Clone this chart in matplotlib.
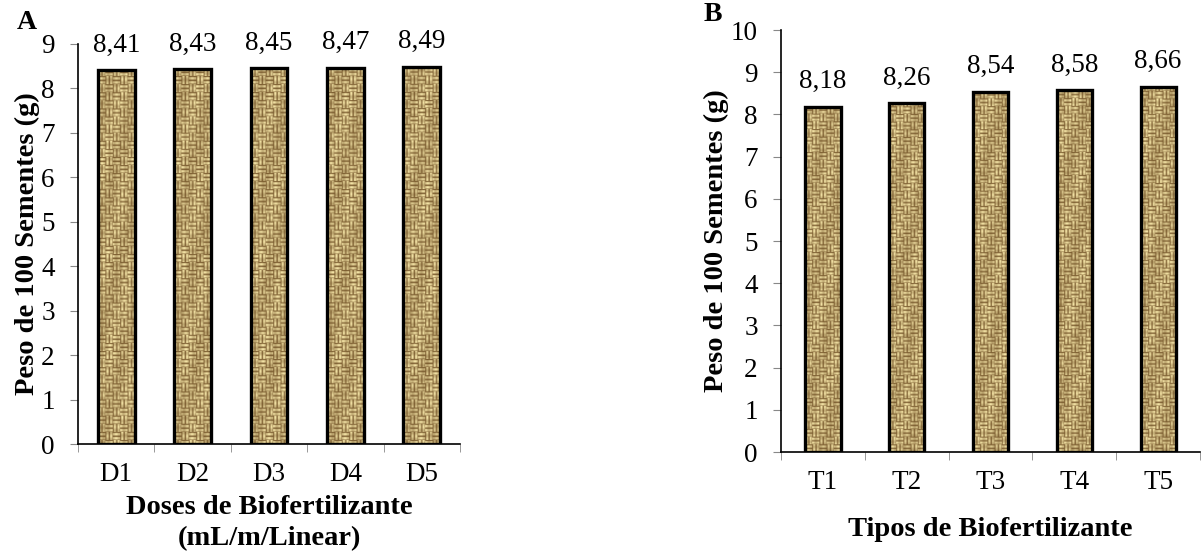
import matplotlib
matplotlib.use("Agg")
import matplotlib.pyplot as plt
import numpy as np

plt.rcParams['font.family'] = ['Liberation Serif', 'DejaVu Serif']

# data
doses = ["D1", "D2", "D3", "D4", "D5"]
peso_doses = [8.41, 8.43, 8.45, 8.47, 8.49]
tipos = ["T1", "T2", "T3", "T4", "T5"]
peso_tipos = [8.18, 8.26, 8.54, 8.58, 8.66]


def weave_texture(h=400, w=40, cell=8):
    """Burlap-like basket weave texture (deterministic, pixel scale)."""
    yy, xx = np.mgrid[0:h, 0:w]
    ci, cj = yy // cell, xx // cell
    horiz = ((ci + cj) % 2) == 0
    t = np.where(horiz, yy % cell, xx % cell)
    along = np.where(horiz, xx, yy)
    p = t % (cell // 2)
    prof = np.array([0.2, 0.85, 1.0, 0.6])[p]
    var = 0.85 + 0.15 * np.sin(along * 0.9 + (ci * 3 + cj * 5))
    var *= 0.9 + 0.1 * np.sin(yy / 17.0 + xx / 5.0)
    shade = prof * var
    light = np.array([248, 232, 170]) / 255.0
    dark = np.array([110, 78, 35]) / 255.0
    img = dark + (light - dark) * shade[..., None]
    return np.clip(img, 0, 1)


def draw_panel(ax, cats, vals, ymax, width, xlabel, xlabpad):
    x = np.arange(len(cats))
    bars = ax.bar(x, vals, width=width, facecolor='none', edgecolor='black',
                  linewidth=2.4, zorder=3)
    tex = weave_texture(h=int(ymax * 44), w=40)
    for b in bars:
        x0 = b.get_x()
        im = ax.imshow(tex, extent=[x0, x0 + b.get_width(), 0, ymax],
                       aspect='auto', zorder=2, interpolation='bilinear')
        im.set_clip_path(b)
        ax.annotate(f"{b.get_height():.2f}".replace('.', ','),
                    (b.get_x() + b.get_width() / 2, b.get_height()),
                    xytext=(0, 9), textcoords='offset points',
                    ha='center', va='bottom', fontsize=19.5)
    ax.set_xlim(-0.5, len(cats) - 0.5)
    ax.set_ylim(0, ymax)
    ax.set_yticks(range(0, ymax + 1))
    ax.set_xticks(x)
    ax.set_xticklabels(cats)
    ax.set_xticks(np.arange(-0.5, len(cats)), minor=True)
    ax.tick_params(axis='x', which='major', length=0, labelsize=19.5, pad=13)
    ax.tick_params(axis='x', which='minor', length=5.8, color='#888888', direction='out')
    ax.tick_params(axis='y', length=5.8, color='#888888', labelsize=19.5, pad=11)
    for s in ['top', 'right']:
        ax.spines[s].set_visible(False)
    ax.spines['left'].set_linewidth(1.2)
    ax.spines['bottom'].set_linewidth(1.2)
    ax.set_ylabel("Peso de 100 Sementes (g)", fontsize=20.5, fontweight='bold', labelpad=1)
    ax.set_xlabel(xlabel, fontsize=20.5, fontweight='bold', labelpad=xlabpad,
                  linespacing=1.3)


fig = plt.figure(figsize=(12.02, 5.56), dpi=100)
axA = fig.add_axes([0.0649, 0.2014, 0.3178, 0.7195])
axB = fig.add_axes([0.6498, 0.187, 0.3486, 0.759])

draw_panel(axA, doses, peso_doses, 9, 0.48,
           "Doses de Biofertilizante\n(mL/m/Linear)", 6)
draw_panel(axB, tipos, peso_tipos, 10, 0.42,
           "Tipos de Biofertilizante", 16)

fig.text(0.014, 0.96, "A", fontsize=20, fontweight='bold', ha='left', va='center')
fig.text(0.585, 0.997, "B", fontsize=20, fontweight='bold', ha='left', va='top')

fig.savefig("out.png", dpi=100, facecolor='white')
